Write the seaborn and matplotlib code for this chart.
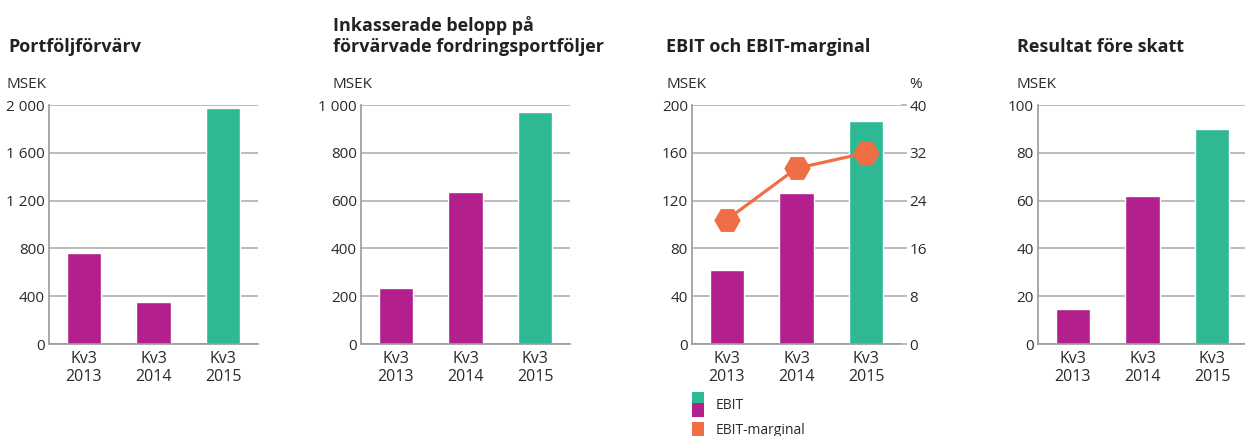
import matplotlib
matplotlib.use("Agg")
import matplotlib.pyplot as plt
import seaborn as sns
from matplotlib.patches import Rectangle

# ---- data ----
categories = ["Kv3\n2013", "Kv3\n2014", "Kv3\n2015"]
portfolj = [765, 352, 1975]
inkasserade = [235, 637, 971]
ebit = [62, 126, 187]
ebit_marginal = [20.8, 29.4, 32.0]
resultat = [14.6, 62, 90]

titles = ["Portföljförvärv",
          "Inkasserade belopp på\nförvärvade fordringsportföljer",
          "EBIT och EBIT-marginal",
          "Resultat före skatt"]
unit_label = "MSEK"
pct_label = "%"
legend_labels = ["EBIT", "EBIT-marginal"]

ticks1 = [0, 400, 800, 1200, 1600, 2000]
ticklabels1 = ["0", "400", "800", "1 200", "1 600", "2 000"]
ticks2 = [0, 200, 400, 600, 800, 1000]
ticklabels2 = ["0", "200", "400", "600", "800", "1 000"]
ticks3 = [0, 40, 80, 120, 160, 200]
ticks3r = [0, 8, 16, 24, 32, 40]
ticks4 = [0, 20, 40, 60, 80, 100]

# ---- style ----
sns.set_theme(style="white")
plt.rcParams["font.family"] = ["Open Sans", "DejaVu Sans"]
TXT = "#2a2a2a"
GRID = "#b0b0b0"
MAG = "#B31F8C"
TEAL = "#2EB893"
ORANGE = "#F06E45"
bar_colors = [MAG, MAG, TEAL]

W, H = 1245, 436
fig = plt.figure(figsize=(W / 100, H / 100), dpi=100)

ax_w = 209 / W
ax_b = 1 - 344 / H
ax_h = (344 - 105) / H
lefts = [49, 361, 692, 1038]
title_x = [8, 333, 666, 1017]
unit_x = [7, 333, 667, 1017]


def style_axes(ax, ticks, labels, ymax):
    ax.set_ylim(0, ymax)
    ax.set_xlim(-0.5, 2.5)
    ax.set_yticks(ticks)
    ax.set_yticklabels(labels)
    ax.yaxis.grid(True, color=GRID, linewidth=1.2)
    ax.set_axisbelow(True)
    for s in ["top", "right"]:
        ax.spines[s].set_visible(False)
    for s in ["left", "bottom"]:
        ax.spines[s].set_color("#999999")
        ax.spines[s].set_linewidth(1.2)
    ax.tick_params(axis="y", length=0, pad=3, labelsize=11, labelcolor=TXT)
    ax.tick_params(axis="x", length=0, pad=5, labelsize=11.5, labelcolor=TXT)
    ax.set_xlabel("")
    ax.set_ylabel("")


datasets = [
    (portfolj, ticks1, ticklabels1, 2000),
    (inkasserade, ticks2, ticklabels2, 1000),
    (ebit, ticks3, [str(t) for t in ticks3], 200),
    (resultat, ticks4, [str(t) for t in ticks4], 100),
]

axes = []
for i, (vals, tks, tls, ymax) in enumerate(datasets):
    ax = fig.add_axes([lefts[i] / W, ax_b, ax_w, ax_h])
    sns.barplot(x=categories, y=vals, hue=categories, palette=bar_colors,
                legend=False, width=0.49, ax=ax, saturation=1)
    style_axes(ax, tks, tls, ymax)
    ax.set_xticks(range(len(categories)))
    ax.set_xticklabels(categories, linespacing=1.15)
    axes.append(ax)
    fig.text(title_x[i] / W, 1 - 52 / H, titles[i], fontsize=13, fontweight="bold",
             color="#222222", ha="left", va="baseline", linespacing=1.2)
    fig.text(unit_x[i] / W, 1 - 85 / H, unit_label, fontsize=11, color=TXT,
             ha="left", va="center")

# secondary axis for EBIT-marginal
ax3 = axes[2]
ax3r = ax3.twinx()
sns.lineplot(x=[0, 1, 2], y=ebit_marginal, ax=ax3r, color=ORANGE, linewidth=2.3,
             marker="H", markersize=19, markeredgewidth=0, sort=False)
ax3r.set_ylim(0, 40)
ax3r.set_xlim(-0.5, 2.5)
ax3r.set_yticks(ticks3r)
ax3r.set_yticklabels([str(t) for t in ticks3r])
ax3r.tick_params(axis="y", length=4, color=GRID, width=1.2, pad=2, labelsize=11,
                 labelcolor=TXT)
for s in ["top", "right", "left", "bottom"]:
    ax3r.spines[s].set_visible(False)
ax3r.set_ylabel("")
fig.text(922 / W, 1 - 85 / H, pct_label, fontsize=11, color=TXT, ha="right", va="center")

# legend (manual)
sq = 12
fig.add_artist(Rectangle((692 / W, 1 - 403 / H), sq / W, 11 / H,
                         transform=fig.transFigure, color=TEAL, lw=0))
fig.add_artist(Rectangle((692 / W, 1 - 417 / H), sq / W, 14 / H,
                         transform=fig.transFigure, color=MAG, lw=0))
fig.add_artist(Rectangle((692 / W, 1 - 436 / H), sq / W, 14 / H,
                         transform=fig.transFigure, color=ORANGE, lw=0))
fig.text(716 / W, 1 - 405 / H, legend_labels[0], fontsize=10, color=TXT,
         ha="left", va="center")
fig.text(716 / W, 1 - 430 / H, legend_labels[1], fontsize=10, color=TXT,
         ha="left", va="center")

fig.savefig("out.png", dpi=100)
